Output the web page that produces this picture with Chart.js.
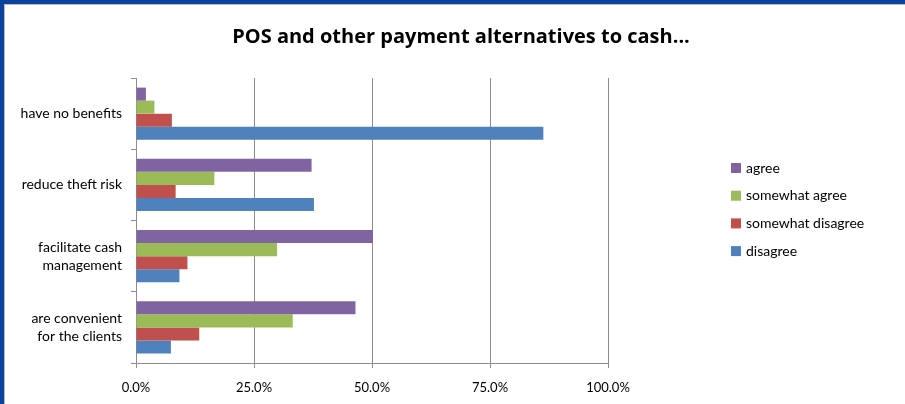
<!DOCTYPE html>
<html>
<head>
<meta charset="utf-8">
<script src="https://cdn.jsdelivr.net/npm/chart.js@4/dist/chart.umd.min.js"></script>
<style>
  html, body { margin: 0; padding: 0; background: #fff; }
  #wrap { position: relative; width: 905px; height: 404px; overflow: hidden; }
  #chart { position: absolute; left: 0; top: 0; }
  .frame-left { position: absolute; left: 0; top: 0; width: 4px; height: 404px; background: #0a4399; }
  .frame-top { position: absolute; left: 0; top: 0; width: 905px; height: 4px; background: #0a4399; }
  .line-left { position: absolute; left: 4px; top: 4px; width: 1px; height: 400px; background: #b8bcc4; }
  .line-top { position: absolute; left: 4px; top: 4px; width: 901px; height: 1px; background: #b8bcc4; }
</style>
</head>
<body>
<div id="wrap">
  <canvas id="chart" width="905" height="404"></canvas>
  <div class="frame-left"></div>
  <div class="frame-top"></div>
  <div class="line-left"></div>
  <div class="line-top"></div>
</div>
<script>
const chartTitle = "POS and other payment alternatives to cash...";
const categories = [
  "have no benefits",
  "reduce theft risk",
  ["facilitate cash", "management"],
  ["are convenient", "for the clients"],
];
const agree = [2.1, 37.2, 50.2, 46.5];
const somewhatAgree = [3.9, 16.6, 29.9, 33.2];
const somewhatDisagree = [7.6, 8.4, 10.9, 13.4];
const disagree = [86.3, 37.7, 9.2, 7.4];
const xTicks = [0, 25, 50, 75, 100];

const FONT = "Lato, 'Open Sans', sans-serif";
const GRID = "#8c8c8c";

// title centred over the whole canvas, legend parked right of the plot
const sideParts = {
  id: "sideParts",
  afterDraw(chart) {
    const ctx = chart.ctx;
    ctx.save();
    ctx.fillStyle = "#000";
    ctx.textBaseline = "middle";
    ctx.textAlign = "center";
    ctx.font = "bold 20px 'Open Sans', sans-serif";
    ctx.fillText(chartTitle, 461, 37);

    ctx.textAlign = "left";
    ctx.font = "14px " + FONT;
    chart.data.datasets.forEach((ds, i) => {
      const y = 168 + i * 27.7;
      ctx.fillStyle = ds.backgroundColor;
      ctx.fillRect(731, y - 5, 10, 10);
      ctx.fillStyle = "#000";
      ctx.fillText(ds.label, 746, y);
    });
    ctx.restore();
  },
};

new Chart(document.getElementById("chart"), {
  type: "bar",
  data: {
    labels: categories,
    datasets: [
      { label: "agree", data: agree, backgroundColor: "#8064a2" },
      { label: "somewhat agree", data: somewhatAgree, backgroundColor: "#9bbb59" },
      { label: "somewhat disagree", data: somewhatDisagree, backgroundColor: "#c0504d" },
      { label: "disagree", data: disagree, backgroundColor: "#4f81bd" },
    ],
  },
  options: {
    indexAxis: "y",
    responsive: false,
    animation: false,
    layout: { padding: { left: 0, right: 297, top: 78, bottom: 0 } },
    datasets: {
      bar: { categoryPercentage: 0.73, barPercentage: 1.0, borderWidth: 0 },
    },
    plugins: {
      legend: { display: false },
      tooltip: { enabled: false },
    },
    scales: {
      x: {
        min: 0,
        max: 100,
        afterBuildTicks(scale) {
          scale.ticks = xTicks.map((v) => ({ value: v }));
        },
        afterFit(scale) {
          scale.height = 41;
        },
        ticks: {
          color: "#000",
          font: { family: FONT, size: 13 },
          padding: 12,
          callback: (v) => v.toFixed(1) + "%",
        },
        grid: { color: GRID, tickLength: 5, lineWidth: 1 },
        border: { color: GRID },
      },
      y: {
        afterFit(scale) {
          scale.width = 136;
        },
        ticks: {
          color: "#000",
          font: { family: FONT, size: 14, lineHeight: 1.27 },
          padding: 9,
        },
        grid: { offset: true, drawOnChartArea: false, color: GRID, tickLength: 5 },
        border: { color: GRID },
      },
    },
  },
  plugins: [sideParts],
});
</script>
</body>
</html>
